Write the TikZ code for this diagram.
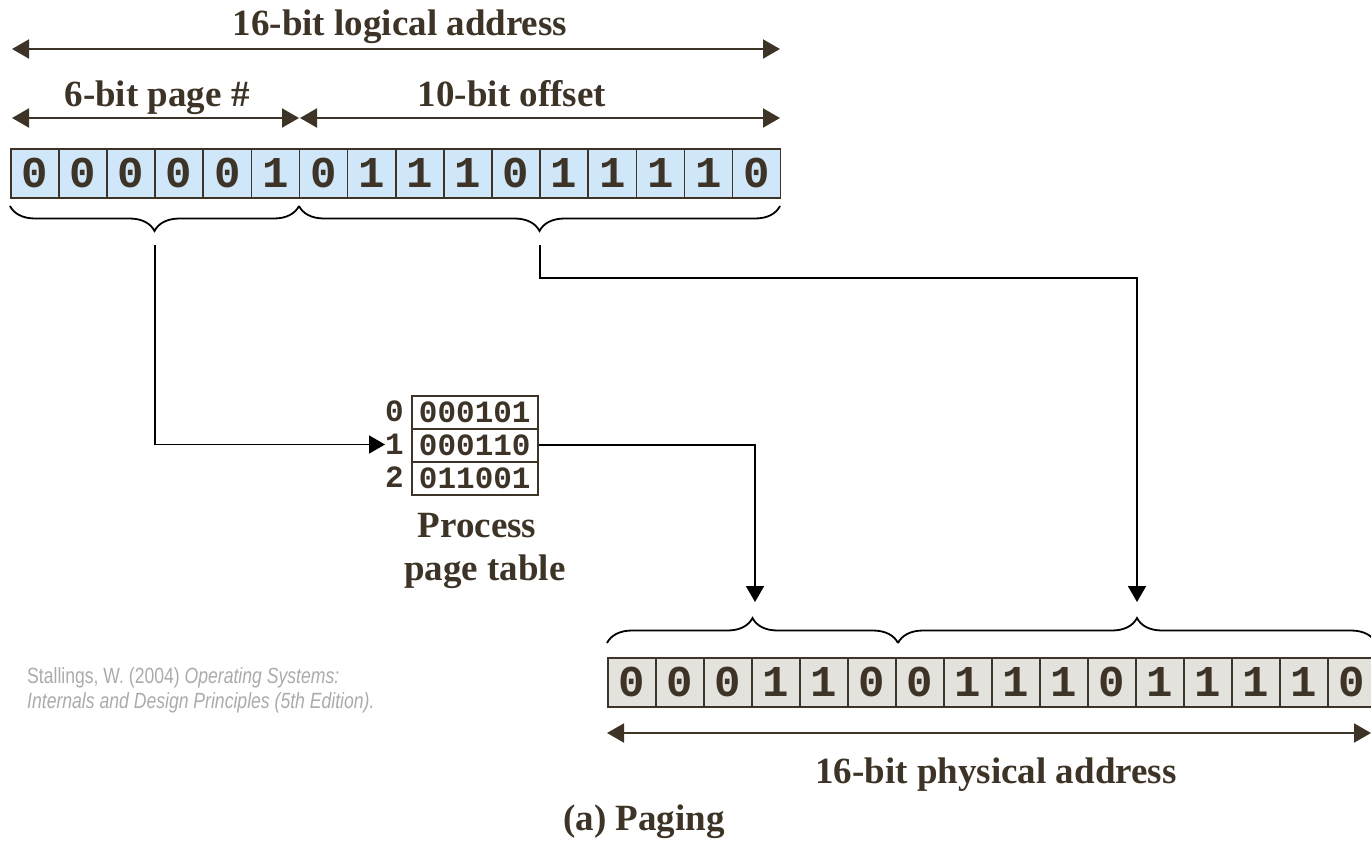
\documentclass[tikz,border=0pt]{standalone}
\usepackage{fontspec}
\setmainfont{Liberation Serif}
\newfontfamily\bitfont{Liberation Mono}
\newfontfamily\citefont{Liberation Sans}
\usetikzlibrary{arrows.meta,decorations.pathreplacing}
\definecolor{ink}{HTML}{3D3327}
\definecolor{cellblue}{HTML}{CFE7F8}
\definecolor{cellgray}{HTML}{E4E2DD}
\definecolor{citegray}{HTML}{ABABAB}
\begin{document}
\begin{tikzpicture}[x=1pt,y=-1pt,
  lbl/.style={font=\fontsize{37}{40}\selectfont\bfseries, text=ink, anchor=base, inner sep=0pt},
  dim/.style={draw=ink, line width=2pt, {Triangle[length=17pt,width=19pt]}-{Triangle[length=17pt,width=19pt]}},
  conn/.style={draw=black, line width=1.8pt, -{Triangle[length=16pt,width=18pt]}},
  bracedec/.style={draw=black, line width=1.8pt, decorate},
  bitcell/.style={draw=ink, line width=1.6pt, minimum width=48pt, minimum height=49pt, inner sep=0pt, anchor=north west, font=\bitfont\bfseries\fontsize{44}{44}\selectfont, text=ink},
  ptrow/.style={draw=ink, line width=1.6pt, minimum width=126pt, minimum height=33pt, inner sep=0pt, anchor=north west, font=\bitfont\bfseries\fontsize{31}{31}\selectfont, text=ink},
  ptidx/.style={anchor=east, inner sep=0pt, font=\bitfont\bfseries\fontsize{31}{31}\selectfont, text=ink},
  cite/.style={anchor=base west, inner sep=0pt, font=\citefont\fontsize{22}{25}\selectfont, text=citegray}
]
\useasboundingbox (0,0) rectangle (1371,841);

% top labels and dimension arrows
\node[lbl] (tlog) at (400,35) {16-bit logical address};
\coordinate (a1l) at (12,49);
\coordinate (a1r) at (780,49);
\draw[dim] (a1l) -- (a1r);
\node[lbl] (tpage) at (157,106) {6-bit page \#};
\node[lbl] (toff) at (512,106) {10-bit offset};
\coordinate (a2l) at (12,118);
\coordinate (a2m) at (299,118);
\coordinate (a2n) at (300,118);
\coordinate (a2r) at (780,118);
\draw[dim] (a2l) -- (a2m);
\draw[dim] (a2n) -- (a2r);

% logical address bits
\foreach \b [count=\i from 0] in {0,0,0,0,0,1,0,1,1,1,0,1,1,1,1,0}
  \node[bitcell, fill=cellblue] (t\i) at ({10+48.125*\i},148) {\b};

% braces under logical address
\draw[bracedec, decoration={brace, amplitude=25pt, mirror}] (10,206) -- (299,206);
\draw[bracedec, decoration={brace, amplitude=25pt, mirror}] (299,206) -- (780,206);
\coordinate (pg) at (155,245);
\coordinate (of) at (540,245);
\coordinate (bend) at (540,278);

% page table
\foreach \v [count=\i from 0] in {000101,000110,011001}
{
  \node[ptrow] (pt\i) at (411,{395+33*\i}) {\v};
  \node[ptidx] (l\i) at (404,{411.5+33*\i}) {\i};
}
\node[lbl] (proc) at (477,537) {Process};
\node[lbl] (ptab) at (485,580) {page table};

% physical address
\coordinate (frm) at (755,602);
\coordinate (phy) at (1137,602);
\draw[bracedec, decoration={brace, amplitude=25pt}] (607,643) -- (898,643);
\draw[bracedec, decoration={brace, amplitude=25pt}] (898,643) -- (1376,643);
\foreach \b [count=\i from 0] in {0,0,0,1,1,0,0,1,1,1,0,1,1,1,1,0}
  \node[bitcell, fill=cellgray] (p\i) at ({607+48*\i},657) {\b};
\coordinate (a3l) at (607,733);
\coordinate (a3r) at (1371,733);
\draw[dim] (a3l) -- (a3r);
\node[lbl] (tphys) at (996,783) {16-bit physical address};
\node[lbl] (cap) at (644,830) {(a) Paging};

% connectors
\draw[conn] (pg) |- (l1.west);
\draw[conn] (pt1.east) -| (frm);
\draw[conn] (of) -- (bend) -| (phy);

% citation
\node[cite] (c1) at (27,683) {\scalebox{0.8}[1]{Stallings, W. (2004) \textit{Operating Systems:}}};
\node[cite] (c2) at (27,708) {\scalebox{0.8}[1]{\textit{Internals and Design Principles (5th Edition).}}};
\end{tikzpicture}
\end{document}
